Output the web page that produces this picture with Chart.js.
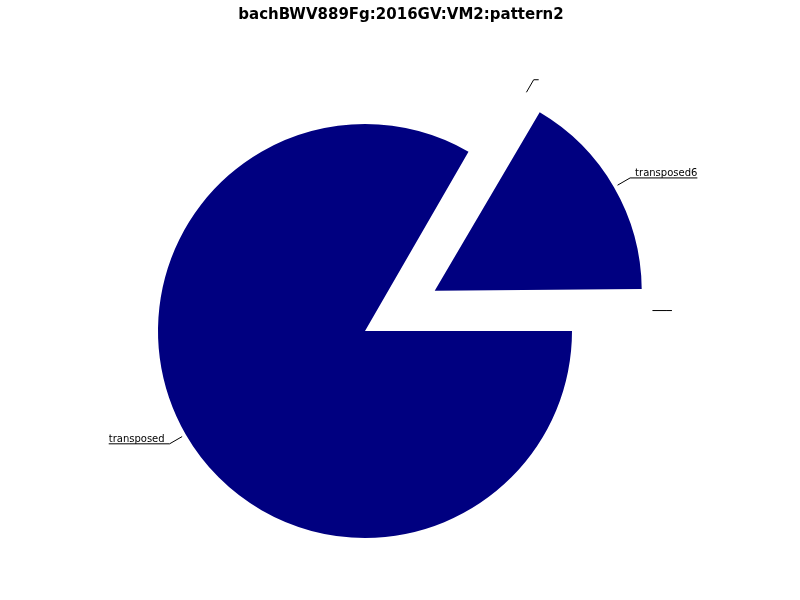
<!DOCTYPE html>
<html>
<head>
<meta charset="utf-8">
<script src="https://cdn.jsdelivr.net/npm/chart.js@4"></script>
<style>
html,body{margin:0;padding:0;background:#fff;}
#wrap{width:800px;height:600px;}
</style>
</head>
<body>
<div id="wrap"><canvas id="c" width="800" height="600"></canvas></div>
<script>
const chartTitle = "bachBWV889Fg:2016GV:VM2:pattern2";
// slices in clockwise order starting at 3 o'clock
const categories = ["transposed", "", "transposed6", ""];
const values = [5, 0, 1, 0];
const explodeOffsets = [0, 316, 322, 316];
const sliceColor = "#000080";
const pieRadius = 207;

// keep exploded wedges at the nominal radius (Chart.js enlarges them otherwise)
const radiusFix = {
  id: "radiusFix",
  beforeDatasetsDraw(chart) {
    const meta = chart.getDatasetMeta(0);
    meta.data.forEach((arc, i) => {
      const off = (explodeOffsets[i] || 0) / 4;
      const fix = 1 - Math.sin(Math.min(Math.PI, arc.circumference || 0));
      arc.outerRadius = pieRadius - off * fix;
    });
  }
};

const labelPlugin = {
  id: "pieLabels",
  afterDatasetsDraw(chart) {
    const ctx = chart.ctx;
    const meta = chart.getDatasetMeta(0);
    const arcs = meta.data;
    ctx.save();
    ctx.font = "10px 'DejaVu Sans'";
    ctx.strokeStyle = "#000";
    ctx.fillStyle = "#000";
    ctx.lineWidth = 1;
    arcs.forEach((arc, i) => {
      const mid = (arc.startAngle + arc.endAngle) / 2;
      let dir = mid;
      if (!arc.circumference) {
        // zero-size slice: shift towards neighbouring exploded slice
        const nb = [arcs[i + 1], arcs[i - 1]].find((a, k) => a && a.circumference && explodeOffsets[k === 0 ? i + 1 : i - 1]);
        if (nb) {
          let nm = (nb.startAngle + nb.endAngle) / 2;
          dir = (mid + nm) / 2;
        }
      }
      const t = (explodeOffsets[i] || 0) / 4;
      const cx = arc.x + Math.cos(dir) * t;
      const cy = arc.y + Math.sin(dir) * t;
      const r = pieRadius;
      const c = Math.cos(mid), s = Math.sin(mid);
      const x1 = cx + c * r * 1.02, y1 = cy + s * r * 1.02;
      const x2 = cx + c * r * 1.09, y2 = cy + s * r * 1.09;
      const txt = categories[i];
      const w = ctx.measureText(txt).width;
      const right = c >= -1e-6;
      const x3 = right ? x2 + 5 + w : x2 - 5 - w;
      ctx.beginPath();
      ctx.moveTo(x1, y1);
      ctx.lineTo(x2, y2);
      ctx.lineTo(x3, y2);
      ctx.stroke();
      ctx.textBaseline = "alphabetic";
      if (right) {
        ctx.textAlign = "left";
        ctx.fillText(txt, x2 + 5, y2 - 1.5);
      } else {
        ctx.textAlign = "right";
        ctx.fillText(txt, x2 - 5, y2 - 1.5);
      }
    });
    ctx.font = "bold 15px 'DejaVu Sans'";
    ctx.textAlign = "center";
    ctx.textBaseline = "alphabetic";
    ctx.fillText(chartTitle, 401, 18.5);
    ctx.restore();
  }
};

new Chart(document.getElementById("c"), {
  type: "pie",
  data: {
    labels: categories,
    datasets: [{
      data: values,
      backgroundColor: sliceColor,
      borderWidth: 0,
      offset: explodeOffsets,
      clip: false
    }]
  },
  options: {
    responsive: false,
    animation: false,
    events: [],
    rotation: 90,
    radius: pieRadius,
    layout: { padding: { left: 0, right: 70, top: 62, bottom: 0 } },
    plugins: {
      legend: { display: false },
      tooltip: { enabled: false },
      title: { display: false }
    }
  },
  plugins: [radiusFix, labelPlugin]
});
</script>
</body>
</html>
